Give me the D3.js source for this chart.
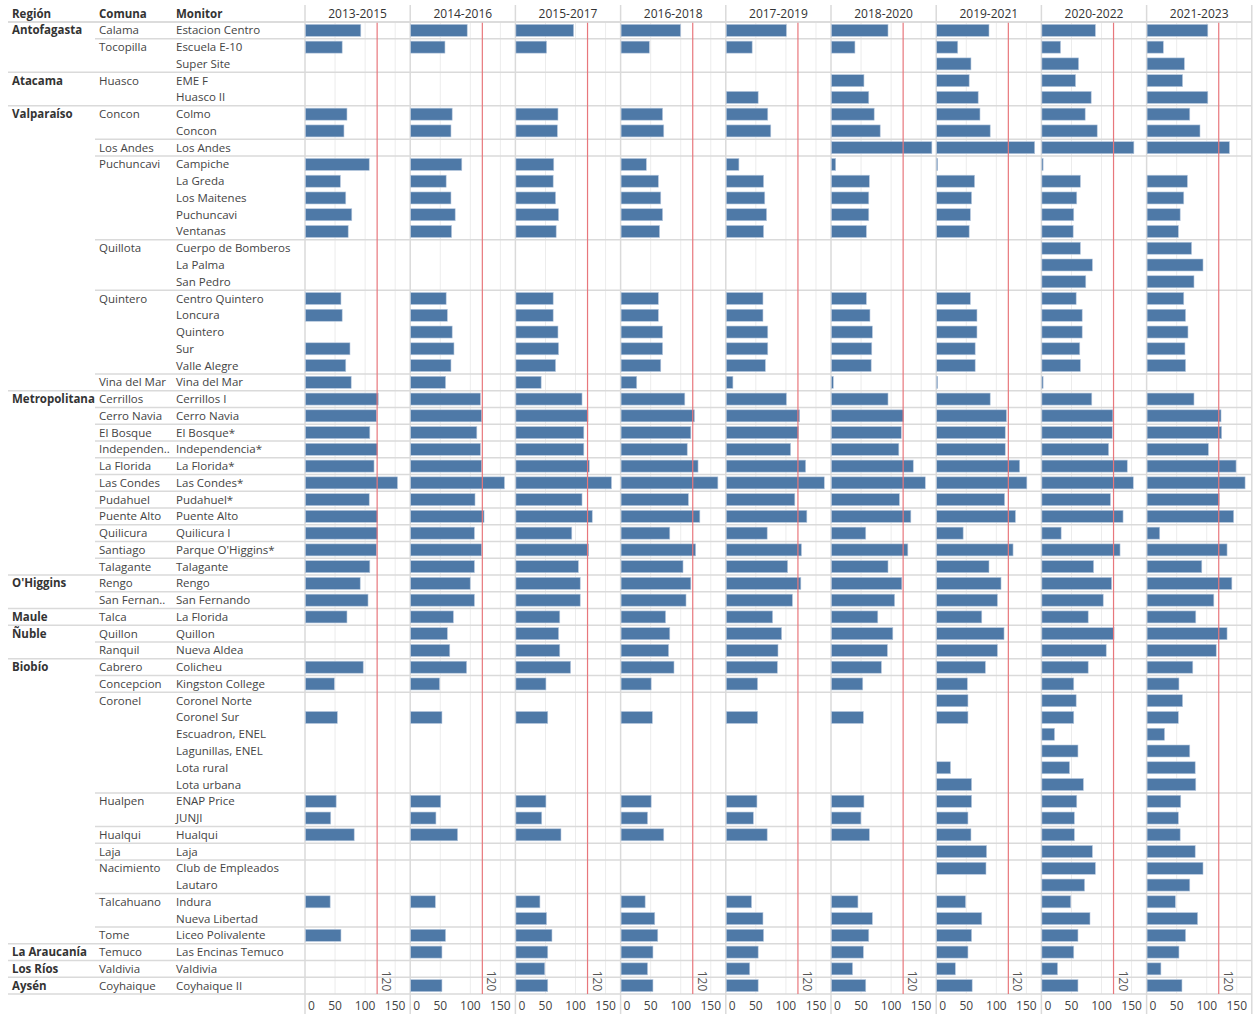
<!DOCTYPE html>
<html>
<head>
<meta charset="utf-8">
<script src="https://cdn.jsdelivr.net/npm/d3@7"></script>
<style>
  body { margin: 0; background: #fff; }
  svg { display: block; font-family: "Open Sans", sans-serif; }
</style>
</head>
<body>
<svg id="chart" width="1255" height="1014"></svg>
<script>
//Periods (columns)
const periods = ["2013-2015", "2014-2016", "2015-2017", "2016-2018", "2017-2019",
  "2018-2020", "2019-2021", "2020-2022", "2021-2023"];

//Row headers ("" = same as row above)
const regions = ["Antofagasta", "", "", "Atacama", "", "Valparaíso", "", "", "", "", "", "", "",
  "", "", "", "", "", "", "", "", "", "Metropolitana", "", "", "", "", "", "", "", "", "", "",
  "O'Higgins", "", "Maule", "Ñuble", "", "Biobío", "", "", "", "", "", "", "", "", "", "", "",
  "", "", "", "", "", "La Araucanía", "Los Ríos", "Aysén"];
const comunas = ["Calama", "Tocopilla", "", "Huasco", "", "Concon", "", "Los Andes", "Puchuncavi",
  "", "", "", "", "Quillota", "", "", "Quintero", "", "", "", "", "Vina del Mar", "Cerrillos",
  "Cerro Navia", "El Bosque", "Independen..", "La Florida", "Las Condes", "Pudahuel", "Puente Alto",
  "Quilicura", "Santiago", "Talagante", "Rengo", "San Fernan..", "Talca", "Quillon", "Ranquil",
  "Cabrero", "Concepcion", "Coronel", "", "", "", "", "", "Hualpen", "", "Hualqui", "Laja",
  "Nacimiento", "", "Talcahuano", "", "Tome", "Temuco", "Valdivia", "Coyhaique"];
const monitors = ["Estacion Centro", "Escuela E-10", "Super Site", "EME F", "Huasco II", "Colmo",
  "Concon", "Los Andes", "Campiche", "La Greda", "Los Maitenes", "Puchuncavi", "Ventanas",
  "Cuerpo de Bomberos", "La Palma", "San Pedro", "Centro Quintero", "Loncura", "Quintero", "Sur",
  "Valle Alegre", "Vina del Mar", "Cerrillos I", "Cerro Navia", "El Bosque*", "Independencia*",
  "La Florida*", "Las Condes*", "Pudahuel*", "Puente Alto", "Quilicura I", "Parque O'Higgins*",
  "Talagante", "Rengo", "San Fernando", "La Florida", "Quillon", "Nueva  Aldea", "Colicheu",
  "Kingston College", "Coronel Norte", "Coronel Sur", "Escuadron, ENEL", "Lagunillas, ENEL",
  "Lota rural", "Lota urbana", "ENAP Price", "JUNJI", "Hualqui", "Laja", "Club de Empleados",
  "Lautaro", "Indura", "Nueva Libertad", "Liceo Polivalente", "Las Encinas Temuco", "Valdivia",
  "Coyhaique II"];

//Values per period, one per monitor row (null = no data)
const _ = null;
const v2013 = [92, 61, _, _, _, 69, 64, _, 106, 58, 67, 77, 71, _, _, _, 59, 61, _, 74, 67, 76,
  121, 118, 107, 120, 114, 153, 106, 120, 120, 118, 107, 91, 104, 69, _, _, 96, 48, _, 53, _, _, _, _,
  51, 42, 81, _, _, _, 41, _, 59, _, _, _];
const v2014 = [94, 57, _, _, _, 69, 67, _, 85, 59, 67, 74, 68, _, _, _, 59, 61, 69, 72, 67, 58,
  116, 118, 110, 116, 118, 156, 107, 122, 106, 118, 106, 99, 106, 71, 61, 65, 93, 48, _, 52, _, _, _, _,
  50, 42, 78, _, _, _, 41, _, 58, 52, _, 52];
const v2015 = [96, 51, _, _, _, 70, 69, _, 63, 62, 66, 71, 67, _, _, _, 62, 62, 70, 71, 66, 42,
  110, 120, 113, 113, 122, 159, 110, 127, 93, 121, 104, 107, 107, 73, 71, 73, 91, 50, _, 53, _, _, _, _,
  50, 43, 75, _, _, _, 40, 51, 60, 53, 48, 53];
const v2016 = [99, 47, _, _, _, 69, 71, _, 42, 62, 66, 69, 64, _, _, _, 62, 62, 69, 69, 66, 26,
  106, 122, 116, 110, 128, 161, 112, 131, 81, 124, 103, 116, 108, 74, 81, 79, 88, 50, _, 52, _, _, _, _,
  50, 44, 71, _, _, _, 40, 56, 61, 53, 44, 53];
const v2017 = [100, 43, _, _, 53, 69, 74, _, 21, 62, 64, 67, 62, _, _, _, 61, 61, 69, 69, 65, 11,
  100, 122, 120, 107, 132, 163, 114, 134, 68, 125, 102, 124, 110, 77, 92, 86, 85, 52, _, 52, _, _, _, _,
  51, 45, 68, _, _, _, 42, 61, 62, 53, 39, 53];
const v2018 = [94, 39, _, 54, 62, 71, 81, 167, 7, 63, 62, 62, 58, _, _, _, 58, 64, 68, 67, 66, 3,
  94, 120, 116, 112, 136, 156, 113, 132, 57, 127, 94, 117, 105, 77, 102, 93, 83, 52, _, 53, _, _, _, _,
  54, 49, 63, _, _, _, 44, 68, 62, 53, 35, 57];
const v2019 = [87, 35, 57, 54, 69, 72, 89, 163, 1, 63, 58, 56, 54, _, _, _, 56, 67, 67, 64, 64, 1,
  89, 116, 114, 114, 138, 150, 113, 131, 44, 127, 87, 107, 101, 75, 112, 101, 81, 51, 52, 52, _, _, 23, 58,
  58, 52, 57, 83, 82, _, 48, 75, 58, 52, 31, 59];
const v2020 = [89, 31, 61, 56, 82, 72, 92, 153, 2, 64, 58, 53, 52, 64, 84, 73, 57, 67, 67, 63, 64, 2,
  83, 118, 117, 111, 142, 152, 114, 135, 32, 130, 86, 116, 102, 77, 120, 107, 77, 53, 57, 53, 21, 60, 46, 69,
  58, 54, 54, 84, 89, 71, 48, 80, 60, 53, 26, 60];
const v2021 = [101, 27, 62, 59, 101, 71, 88, 137, _, 67, 61, 55, 52, 74, 93, 78, 61, 64, 68, 63, 64, _,
  78, 123, 124, 102, 148, 163, 120, 144, 21, 133, 91, 141, 111, 81, 133, 115, 76, 53, 59, 52, 29, 71, 80, 81,
  56, 52, 55, 80, 93, 71, 47, 84, 64, 53, 23, 58];
const series = [v2013, v2014, v2015, v2016, v2017, v2018, v2019, v2020, v2021];

//Axis
const xTicks = [0, 50, 100, 150];
const refValue = 120;

let svg = d3.select("#chart");
const topY = 22, bottomY = 994, panelLeft = 305, panelW = 105.2, xMax = 175;
const rightX = panelLeft + panelW * periods.length;
const barH = 12;
const gridColor = "#ececec", lineColor = "#dadada";

let y = d3.scaleBand().domain(d3.range(monitors.length)).range([topY, bottomY]).padding(0);

//Grid lines inside each panel
periods.forEach((p, i) => {
    let x = d3.scaleLinear().domain([0, xMax]).range([panelLeft + i * panelW, panelLeft + (i + 1) * panelW]);
    svg.append("g").selectAll("line")
        .data(xTicks.slice(1))
        .enter().append("line")
        .attr("x1", d => x(d)).attr("x2", d => x(d))
        .attr("y1", topY).attr("y2", bottomY)
        .attr("stroke", gridColor);
});

//Row separators (comuna level and region level)
let sepRows = d3.range(monitors.length).filter(i => comunas[i] !== "");
svg.append("g").selectAll("line")
    .data(sepRows)
    .enter().append("line")
    .attr("x1", i => regions[i] !== "" ? 8 : 95)
    .attr("x2", rightX)
    .attr("y1", i => y(i)).attr("y2", i => y(i))
    .attr("stroke", lineColor)
    .attr("stroke-width", 1.5);
svg.append("line")
    .attr("x1", 8).attr("x2", rightX)
    .attr("y1", bottomY).attr("y2", bottomY)
    .attr("stroke", lineColor).attr("stroke-width", 1.5);

//Panel borders
svg.append("g").selectAll("line")
    .data(d3.range(periods.length + 1))
    .enter().append("line")
    .attr("x1", i => panelLeft + i * panelW).attr("x2", i => panelLeft + i * panelW)
    .attr("y1", 5).attr("y2", 1014)
    .attr("stroke", lineColor)
    .attr("stroke-width", 1.5);

//Bars, red line, labels per panel
periods.forEach((p, i) => {
    let x = d3.scaleLinear().domain([0, xMax]).range([panelLeft + i * panelW, panelLeft + (i + 1) * panelW]);
    let g = svg.append("g");

    g.selectAll("rect")
        .data(series[i].map((v, r) => ({ v: v, r: r })).filter(d => d.v !== null))
        .enter().append("rect")
        .attr("x", x(0) + 0.5)
        .attr("y", d => y(d.r) + (y.bandwidth() - barH) / 2)
        .attr("width", d => Math.max(1, x(d.v) - x(0)))
        .attr("height", barH)
        .attr("fill", "#4e79a7")
        .attr("stroke", "#b8c9de")
        .attr("stroke-width", 0.6);

    g.append("line")
        .attr("x1", x(refValue)).attr("x2", x(refValue))
        .attr("y1", topY).attr("y2", bottomY)
        .attr("stroke", "#e8777c")
        .attr("stroke-width", 1.2);

    g.append("text")
        .attr("transform", "translate(" + (x(refValue) + 5) + ",981) rotate(90)")
        .attr("text-anchor", "middle")
        .attr("font-size", "12px")
        .attr("fill", "#555")
        .text(refValue);

    //Column header
    g.append("text")
        .attr("x", x(0) + panelW / 2).attr("y", 18)
        .attr("text-anchor", "middle")
        .attr("font-size", "12px")
        .attr("fill", "#333")
        .text(p);

    //Axis tick labels
    g.selectAll(".tick")
        .data(xTicks)
        .enter().append("text")
        .attr("x", d => d === 0 ? x(d) + 3 : x(d))
        .attr("y", 1010)
        .attr("text-anchor", d => d === 0 ? "start" : "middle")
        .attr("font-size", "12px")
        .attr("fill", "#444")
        .text(d => d);
});

//Header line and titles
svg.append("line")
    .attr("x1", 8).attr("x2", rightX)
    .attr("y1", topY).attr("y2", topY)
    .attr("stroke", lineColor).attr("stroke-width", 1.5);
[["Región", 12], ["Comuna", 99], ["Monitor", 176]].forEach(h => {
    svg.append("text")
        .attr("x", h[1]).attr("y", 18)
        .attr("font-size", "11.5px")
        .attr("font-weight", "bold")
        .attr("fill", "#333")
        .text(h[0]);
});

//Row labels
let labels = svg.append("g").attr("font-size", "11.5px");
labels.selectAll(".region")
    .data(d3.range(monitors.length).filter(i => regions[i] !== ""))
    .enter().append("text")
    .attr("x", 12).attr("y", i => y(i) + y.bandwidth() / 2 + 4)
    .attr("font-weight", "bold").attr("fill", "#333")
    .text(i => regions[i]);
labels.selectAll(".comuna")
    .data(d3.range(monitors.length).filter(i => comunas[i] !== ""))
    .enter().append("text")
    .attr("x", 99).attr("y", i => y(i) + y.bandwidth() / 2 + 4)
    .attr("fill", "#444")
    .text(i => comunas[i]);
labels.selectAll(".monitor")
    .data(d3.range(monitors.length))
    .enter().append("text")
    .attr("x", 176).attr("y", i => y(i) + y.bandwidth() / 2 + 4)
    .attr("fill", "#444")
    .text(i => monitors[i]);
</script>
</body>
</html>
